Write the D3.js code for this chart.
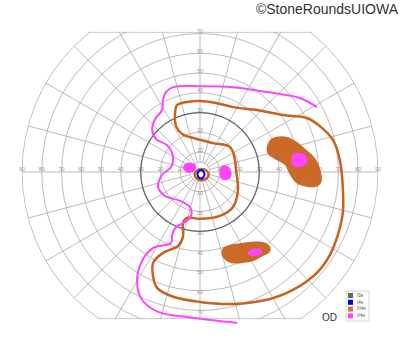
<!DOCTYPE html>
<html>
<head>
<meta charset="utf-8">
<script src="https://cdn.jsdelivr.net/npm/d3@7"></script>
<style>
  body { margin: 0; background: #fff; }
  svg { display: block; font-family: "Liberation Sans", Arial, sans-serif; }
</style>
</head>
<body>
<svg id="chart" width="400" height="352"></svg>
<script>
// Goldmann field, right eye. Points are [horizontal deg, vertical deg]
const ringDegrees = [5, 10, 20, 30, 40, 50, 60, 70, 80, 90];
const meridians = d3.range(0, 360, 15);
const hLabels = [10, 20, 30, 40, 50, 60, 70, 80, 90];
const vLabels = [10, 20, 30, 40, 50, 60, 70];

// I3e isopter
const i3e = [[30, 0], [26, 15], [15, 26], [0, 30], [-15, 26], [-26, 15],
  [-30, 0], [-26, -15], [-15, -26], [0, -30], [15, -26], [26, -15]];

// I4e isopter (tiny ring near fixation)
const i4e = [[2.3, -1.2], [1.6, 0.4], [0.5, 0.9], [-0.6, 0.4], [-1.3, -1.2],
  [-0.6, -2.8], [0.5, -3.3], [1.6, -2.8]];

// III4e isopters
const iii4eMain = [[54, 27.3], [60.6, 23.2], [67.2, 16.2], [70.7, 6.1], [72.2, -7.6],
  [72.2, -20.7], [69.7, -31.8], [65.7, -41.9], [59.1, -51], [47, -59.6], [33.8, -64.6],
  [16.7, -66.7], [0, -65.7], [-13.6, -63.1], [-21.7, -58.6], [-23.7, -53], [-23.7, -46],
  [-18.7, -40.9], [-11.1, -37.4], [-8.6, -32.8], [-8.6, -25.8], [-6.6, -23.2], [0, -23.7],
  [10.1, -22.2], [16.7, -17.7], [19.2, -9.1], [18.2, 1], [17.7, 6.1], [15.2, 12.6],
  [6.6, 14.6], [-1.5, 16.7], [-9.1, 19.2], [-12.1, 23.2], [-12.6, 29.8], [-11.6, 33.8],
  [-6.6, 35.4], [0, 35.9], [8.6, 34.8], [16.7, 32.8], [28.8, 31.3], [41.9, 28.8]];
const iii4eCenter = [[4.3, -1.3], [3.3, 0.7], [0.8, 1.5], [-1.7, 0.7], [-2.7, -1.3],
  [-1.7, -3.3], [0.8, -4.1], [3.3, -3.3]];
const iii4eScotomaUpper = [[33.7, 12.1], [35.4, 16.2], [38.7, 17.8], [43.8, 17.8], [48.8, 15.3],
  [53.9, 11.1], [58.1, 7.1], [60.6, 2], [61.5, -4.9], [58.9, -7.4], [53.9, -7.4], [48.8, -5.7],
  [45.5, -1.5], [42.9, 3.5], [40.4, 5.2], [36.9, 7.1], [34.3, 9.1]];
const iii4eScotomaLower = [[11, -41.9], [11.6, -38.4], [15.2, -36.9], [21.1, -35.9], [27.8, -35.2],
  [32.8, -35.7], [35.4, -37.7], [35.4, -40.3], [31.2, -42.8], [26.1, -45.3], [21.1, -46.1],
  [16, -46.1], [12.6, -44.4]];

// V4e isopter (open) and small V4e scotomas
const v4eMain = [[59.1, 32.8], [50.5, 37.4], [33.8, 40.4], [16.7, 42.9], [0, 43.4], [-13.6, 42.9],
  [-17.2, 40.4], [-18.7, 36.4], [-19.2, 31.3], [-22.7, 26.8], [-24.2, 21.2], [-22.2, 16.7],
  [-16.2, 13.1], [-13.6, 7.6], [-14.6, 2.5], [-19.2, -1.5], [-21.2, -7.6], [-17.7, -12.1],
  [-10.1, -14.6], [-5.1, -17.7], [-4.5, -22.2], [-7.6, -25.3], [-12.1, -27.8], [-14.1, -31.8],
  [-14.6, -35.9], [-23.7, -38.4], [-29.8, -46], [-31.8, -56.1], [-29.3, -64.6], [-21.2, -70.7],
  [-3.5, -73.7], [18.7, -76.3]];
const v4eUpper = [[46.3, 6.9], [47, 9.1], [50.5, 9.6], [53.9, 7.7], [53.9, 4.5], [51.4, 2.7],
  [48, 2.7], [46.3, 4.5]];
const v4eLower = [[24.2, -41.1], [25.3, -39.4], [28.6, -38.5], [31.2, -39.4], [31.2, -41.1],
  [28.6, -42.4], [25.3, -42.4]];
const v4eLeft = [[-8.6, 2], [-7.6, 4], [-5.1, 4.8], [-2.5, 4], [-2, 2], [-3.5, 0], [-6.6, -0.3]];
const v4eRight = [[10.1, 1.5], [11.6, 3.3], [14.1, 3], [15.7, 0.5], [15.7, -2.5], [13.6, -4], [10.6, -3.3]];

const legendNames = ["I3e", "I4e", "III4e", "V4e"];
const legendColors = ["#666666", "#0000ff", "#d07a30", "#ff44ff"];

const ORANGE = "#c8621c";
const MAGENTA = "#ff44ff";

const svg = d3.select("#chart");
const cx = 200, cy = 172, R = 178;
const topDeg = 70.7, bottomDeg = 74.2;

const x = d3.scaleLinear().domain([-90, 90]).range([cx - R, cx + R]);
const y = d3.scaleLinear().domain([-90, 90]).range([cy + R, cy - R]);
const r = d3.scaleLinear().domain([0, 90]).range([0, R]);

const defs = svg.append("defs");
defs.append("clipPath").attr("id", "clip-circle")
  .append("circle").attr("cx", cx).attr("cy", cy).attr("r", r(90) + 0.5);
defs.append("clipPath").attr("id", "clip-rect")
  .append("rect")
  .attr("x", 0).attr("width", 400)
  .attr("y", y(topDeg) - 0.5)
  .attr("height", y(-bottomDeg) - y(topDeg) + 1);

// Grid
const grid = svg.append("g").attr("clip-path", "url(#clip-circle)")
  .append("g").attr("clip-path", "url(#clip-rect)")
  .attr("fill", "none")
  .attr("stroke", "#b3b3b3")
  .attr("stroke-width", 0.9);

grid.selectAll("circle.ring")
  .data(ringDegrees)
  .join("circle")
  .attr("class", "ring")
  .attr("cx", cx).attr("cy", cy)
  .attr("r", d => r(d));

grid.selectAll("line.meridian")
  .data(meridians)
  .join("line")
  .attr("class", "meridian")
  .attr("x1", d => cx + r(5) * Math.cos(d * Math.PI / 180))
  .attr("y1", d => cy - r(5) * Math.sin(d * Math.PI / 180))
  .attr("x2", d => cx + r(90) * Math.cos(d * Math.PI / 180))
  .attr("y2", d => cy - r(90) * Math.sin(d * Math.PI / 180));

// top and bottom chords
grid.selectAll("line.chord")
  .data([topDeg, -bottomDeg])
  .join("line")
  .attr("class", "chord")
  .attr("x1", 0).attr("x2", 400)
  .attr("y1", d => y(d)).attr("y2", d => y(d));

// Tick labels along the axes
const labels = svg.append("g")
  .attr("font-size", 5.5)
  .attr("fill", "#999")
  .attr("text-anchor", "middle")
  .attr("dominant-baseline", "middle");

labels.selectAll("text.hl")
  .data(hLabels.flatMap(d => [-d, d]))
  .join("text")
  .attr("class", "hl")
  .attr("x", d => x(d))
  .attr("y", cy - 2)
  .text(d => Math.abs(d));

labels.selectAll("text.vl")
  .data(vLabels.flatMap(d => [-d, d]))
  .join("text")
  .attr("class", "vl")
  .attr("x", cx)
  .attr("y", d => y(d) - (d > 0 ? 2 : -2))
  .text(d => Math.abs(d));

const closed = d3.line().x(d => x(d[0])).y(d => y(d[1])).curve(d3.curveCatmullRomClosed);
const open = d3.line().x(d => x(d[0])).y(d => y(d[1])).curve(d3.curveCatmullRom);

const marks = svg.append("g");

// filled scotomas
marks.selectAll("path.scotoma")
  .data([iii4eScotomaUpper, iii4eScotomaLower])
  .join("path")
  .attr("class", "scotoma")
  .attr("d", closed)
  .attr("fill", ORANGE)
  .attr("fill-opacity", 0.95);

marks.selectAll("path.v4eblob")
  .data([v4eUpper, v4eLower, v4eLeft, v4eRight])
  .join("path")
  .attr("class", "v4eblob")
  .attr("d", closed)
  .attr("fill", MAGENTA);

marks.append("path")
  .attr("d", closed(i3e))
  .attr("fill", "none")
  .attr("stroke", "#666")
  .attr("stroke-width", 1.2);

marks.selectAll("path.iii4e")
  .data([iii4eMain, iii4eCenter])
  .join("path")
  .attr("class", "iii4e")
  .attr("d", closed)
  .attr("fill", "none")
  .attr("stroke", ORANGE)
  .attr("stroke-width", 2.5);

marks.append("path")
  .attr("d", open(v4eMain))
  .attr("fill", "none")
  .attr("stroke", MAGENTA)
  .attr("stroke-width", 2);

marks.append("path")
  .attr("d", closed(i4e))
  .attr("fill", "none")
  .attr("stroke", "#0000ff")
  .attr("stroke-width", 2);

// Legend
const legend = svg.append("g").attr("transform", "translate(346,291)");
legend.append("rect")
  .attr("width", 23).attr("height", 30)
  .attr("fill", "#fff")
  .attr("stroke", "#ccc")
  .attr("stroke-width", 0.8);

const rows = legend.selectAll("g.row")
  .data(legendNames)
  .join("g")
  .attr("class", "row")
  .attr("transform", (d, i) => `translate(2,${2 + i * 6.8})`);

rows.append("rect")
  .attr("width", 5).attr("height", 5)
  .attr("fill", (d, i) => legendColors[i]);

rows.append("text")
  .attr("x", 9).attr("y", 2.7)
  .attr("dominant-baseline", "middle")
  .attr("font-size", 4.5)
  .attr("fill", "#555")
  .text(d => d);

svg.append("text")
  .attr("x", 322).attr("y", 321)
  .attr("font-size", 10)
  .attr("fill", "#333")
  .text("OD");

svg.append("text")
  .attr("x", 398).attr("y", 14)
  .attr("text-anchor", "end")
  .attr("font-size", 14)
  .attr("fill", "#333")
  .text("©StoneRoundsUIOWA");
</script>
</body>
</html>
